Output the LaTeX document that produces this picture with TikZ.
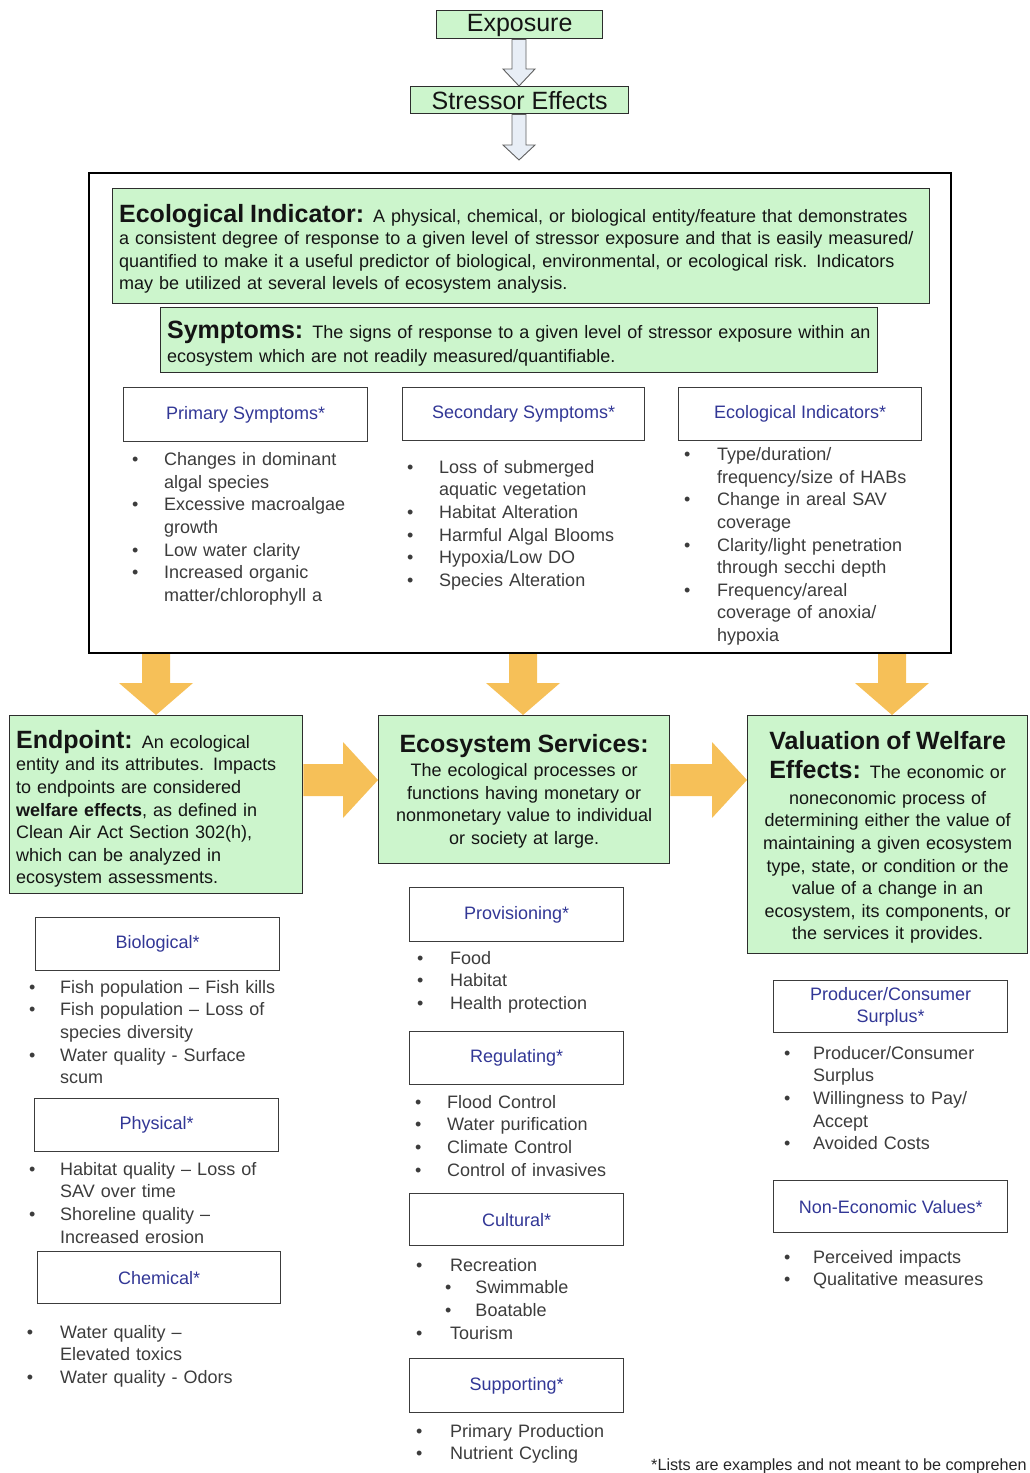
\documentclass[tikz,border=0pt]{standalone}
\usepackage{fontspec}
\setmainfont{Liberation Sans}
\usetikzlibrary{calc}
\definecolor{gfill}{RGB}{204,245,204}
\definecolor{gbord}{RGB}{45,45,45}
\definecolor{lbord}{RGB}{60,60,60}
\definecolor{labc}{RGB}{50,55,150}
\definecolor{lstc}{RGB}{60,60,60}
\definecolor{hfill}{RGB}{232,238,246}
\definecolor{hbord}{RGB}{95,95,95}
\definecolor{orf}{RGB}{246,192,88}
\newlength\bw
\newcommand\bul[1]{\makebox[\bw][l]{\textbullet}#1}
\newcommand\cnt[1]{\hspace*{\bw}#1}
\newcommand\ttl{\fontsize{25}{28}\selectfont\bfseries}
\newcommand\bodyf{\fontsize{18}{22.6}\selectfont}
\newcommand\tallstrut[1]{\rule{0pt}{#1}}
% vertical block arrow: style, x, from, to, shaft half, head half, head length
\newcommand\varrow[7]{\path[#1] let \p1=(#3), \p2=(#4) in
 ({#2pt-#5pt},\y1) -- ({#2pt+#5pt},\y1) -- ({#2pt+#5pt},{\y2+#7pt}) -- ({#2pt+#6pt},{\y2+#7pt})
 -- (#2pt,\y2) -- ({#2pt-#6pt},{\y2+#7pt}) -- ({#2pt-#5pt},{\y2+#7pt}) -- cycle;}
% horizontal block arrow: style, y, from, to, shaft half, head half, head length
\newcommand\harrow[7]{\path[#1] let \p1=(#3), \p2=(#4) in
 (\x1,{-#2pt+#5pt}) -- ({\x2-#7pt},{-#2pt+#5pt}) -- ({\x2-#7pt},{-#2pt+#6pt}) -- (\x2,{-#2pt})
 -- ({\x2-#7pt},{-#2pt-#6pt}) -- ({\x2-#7pt},{-#2pt-#5pt}) -- (\x1,{-#2pt-#5pt}) -- cycle;}
\begin{document}
\begin{tikzpicture}[x=1pt,y=-1pt,
  greenbox/.style={draw=gbord, fill=gfill, line width=1.3pt, inner xsep=6.5pt, inner ysep=0pt, anchor=north west, font=\bodyf, text=black!92},
  labbox/.style={draw=lbord, fill=white, line width=1.4pt, inner sep=0pt, anchor=north west, font=\bodyf, text=labc, align=center},
  lst/.style={anchor=north west, inner sep=0pt, align=left, text=lstc, font=\bodyf, text width=330pt},
  hollow/.style={fill=hfill, draw=hbord, line width=0.9pt},
  orangearrow/.style={fill=orf, draw=none}]
\useasboundingbox (0,0) rectangle (1029,1473);
\clip (0,0) rectangle (1029,1473);

% top chain
\node[greenbox, minimum width=166pt, minimum height=28pt, font=\fontsize{25}{28}\selectfont, inner xsep=0pt, text depth=4pt] (expo) at (436,10) {Exposure};
\node[greenbox, minimum width=218pt, minimum height=27pt, font=\fontsize{25}{28}\selectfont, inner xsep=0pt] (stress) at (410,86) {Stressor Effects};
\coordinate (c1) at (519,160);
\varrow{hollow}{519}{expo.south}{stress.north}{7}{16}{17}
\varrow{hollow}{519}{stress.south}{c1}{7}{16}{15}

% outer frame
\node[draw=black, line width=2pt, fill=white, minimum width=862pt, minimum height=480pt, inner sep=0pt, anchor=north west] (outer) at (88,172) {};

\node[greenbox, minimum width=817pt, minimum height=115pt, text width=804pt, align=left] (ei) at (112,188)
 {\tallstrut{23.5pt}{\ttl Ecological Indicator:} A physical, chemical, or biological entity/feature that demonstrates\\
  a consistent degree of response to a given level of stressor exposure and that is easily measured/\\
  quantified to make it a useful predictor of biological, environmental, or ecological risk. Indicators\\
  may be utilized at several levels of ecosystem analysis.};
\node[greenbox, minimum width=717pt, minimum height=65pt, text width=704pt, align=left] (sym) at (160,307)
 {\tallstrut{25pt}{\ttl Symptoms:} The signs of response to a given level of stressor exposure within an\\[1.5pt]
  ecosystem which are not readily measured/quantifiable.};

\node[labbox, minimum width=244pt, minimum height=54pt] (prim) at (123,387) {Primary Symptoms*};
\node[labbox, minimum width=242pt, minimum height=53pt] (sec) at (402,387) {Secondary Symptoms*};
\node[labbox, minimum width=243pt, minimum height=53pt] (eind) at (678,387) {Ecological Indicators*};

\node[lst] (lprim) at (131.8,452.5) {\setlength\bw{32.2pt}%
 \bul{Changes in dominant}\\ \cnt{algal species}\\ \bul{Excessive macroalgae}\\ \cnt{growth}\\
 \bul{Low water clarity}\\ \bul{Increased organic}\\ \cnt{matter/chlorophyll a}};
\node[lst] (lsec) at (406.8,460) {\setlength\bw{32.2pt}%
 \bul{Loss of submerged}\\ \cnt{aquatic vegetation}\\ \bul{Habitat Alteration}\\
 \bul{Harmful Algal Blooms}\\ \bul{Hypoxia/Low DO}\\ \bul{Species Alteration}};
\node[lst] (leind) at (683.8,447.5) {\setlength\bw{33.2pt}%
 \bul{Type/duration/}\\ \cnt{frequency/size of HABs}\\ \bul{Change in areal SAV}\\ \cnt{coverage}\\
 \bul{Clarity/light penetration}\\ \cnt{through secchi depth}\\ \bul{Frequency/areal}\\
 \cnt{coverage of anoxia/}\\ \cnt{hypoxia}};

% middle row
\node[greenbox, minimum width=293pt, minimum height=178pt, text width=280pt, align=left] (endp) at (9,715)
 {\tallstrut{26.5pt}{\ttl Endpoint:} An ecological\\ entity and its attributes. Impacts\\ to endpoints are considered\\
  \textbf{welfare effects}, as defined in\\ Clean Air Act Section 302(h),\\ which can be analyzed in\\
  ecosystem assessments.};
\node[greenbox, minimum width=291pt, minimum height=148pt, text width=278pt, align=center] (es) at (378,715)
 {\tallstrut{21pt}{\ttl Ecosystem Services:}\\[2pt] The ecological processes or\\ functions having monetary or\\
  nonmonetary value to individual\\ or society at large.};
\node[greenbox, minimum width=280pt, minimum height=238pt, text width=270pt, inner xsep=5pt, align=center] (val) at (747,715)
 {\tallstrut{23.5pt}{\ttl Valuation of Welfare}\\[7pt] {\ttl Effects:} The economic or\\[3pt] noneconomic process of\\
  determining either the value of\\ maintaining a given ecosystem\\ type, state, or condition or the\\
  value of a change in an\\ ecosystem, its components, or\\ the services it provides.};

\varrow{orangearrow}{156}{outer.south}{endp.north}{14}{37}{32}
\varrow{orangearrow}{523}{outer.south}{es.north}{14}{37}{32}
\varrow{orangearrow}{892}{outer.south}{val.north}{14}{37}{32}
\harrow{orangearrow}{780}{endp.east}{es.west}{16}{38}{35}
\harrow{orangearrow}{780}{es.east}{val.west}{16}{38}{35}

% left column
\node[labbox, minimum width=244pt, minimum height=53pt] (bio) at (35,917) {Biological*};
\node[lst] (lbio) at (28.8,980) {\setlength\bw{31.2pt}%
 \bul{Fish population -- Fish kills}\\ \bul{Fish population -- Loss of}\\ \cnt{species diversity}\\
 \bul{Water quality - Surface}\\ \cnt{scum}};
\node[labbox, minimum width=244pt, minimum height=53pt] (phys) at (34,1098) {Physical*};
\node[lst] (lphys) at (28.8,1162) {\setlength\bw{31.2pt}%
 \bul{Habitat quality -- Loss of}\\ \cnt{SAV over time}\\ \bul{Shoreline quality --}\\ \cnt{Increased erosion}};
\node[labbox, minimum width=243pt, minimum height=52pt] (chem) at (37,1251) {Chemical*};
\node[lst] (lchem) at (26.8,1325) {\setlength\bw{33.2pt}%
 \bul{Water quality --}\\ \cnt{Elevated toxics}\\ \bul{Water quality - Odors}};

% middle column
\node[labbox, minimum width=214pt, minimum height=54pt] (prov) at (409,887) {Provisioning*};
\node[lst] (lprov) at (416.8,951) {\setlength\bw{33.2pt}%
 \bul{Food}\\ \bul{Habitat}\\ \bul{Health protection}};
\node[labbox, minimum width=214pt, minimum height=53pt] (reg) at (409,1031) {Regulating*};
\node[lst] (lreg) at (414.8,1095) {\setlength\bw{32.2pt}%
 \bul{Flood Control}\\ \bul{Water purification}\\ \bul{Climate Control}\\ \bul{Control of invasives}};
\node[labbox, minimum width=214pt, minimum height=52pt] (cult) at (409,1193) {Cultural*};
\node[lst] (lcult) at (415.8,1258) {\setlength\bw{34.2pt}%
 \bul{Recreation}\\ \hspace*{29pt}\makebox[30.5pt][l]{\textbullet}Swimmable\\
 \hspace*{29pt}\makebox[30.5pt][l]{\textbullet}Boatable\\ \bul{Tourism}};
\node[labbox, minimum width=214pt, minimum height=54pt] (supp) at (409,1358) {Supporting*};
\node[lst] (lsupp) at (415.8,1424) {\setlength\bw{34.2pt}%
 \bul{Primary Production}\\ \bul{Nutrient Cycling}};

% right column
\node[labbox, minimum width=234pt, minimum height=52pt] (pcs) at (773,980) {Producer/Consumer\\ Surplus*};
\node[lst] (lpcs) at (783.8,1046) {\setlength\bw{29.2pt}%
 \bul{Producer/Consumer}\\ \cnt{Surplus}\\ \bul{Willingness to Pay/}\\ \cnt{Accept}\\ \bul{Avoided Costs}};
\node[labbox, minimum width=234pt, minimum height=52pt] (nev) at (773,1180) {Non-Economic Values*};
\node[lst] (lnev) at (783.8,1250) {\setlength\bw{29.2pt}%
 \bul{Perceived impacts}\\ \bul{Qualitative measures}};

\node[anchor=base west, inner sep=0pt, font=\fontsize{16.2}{19}\selectfont, text=black!85] (fn) at (651,1470)
 {*Lists are examples and not meant to be comprehen};
\end{tikzpicture}
\end{document}
